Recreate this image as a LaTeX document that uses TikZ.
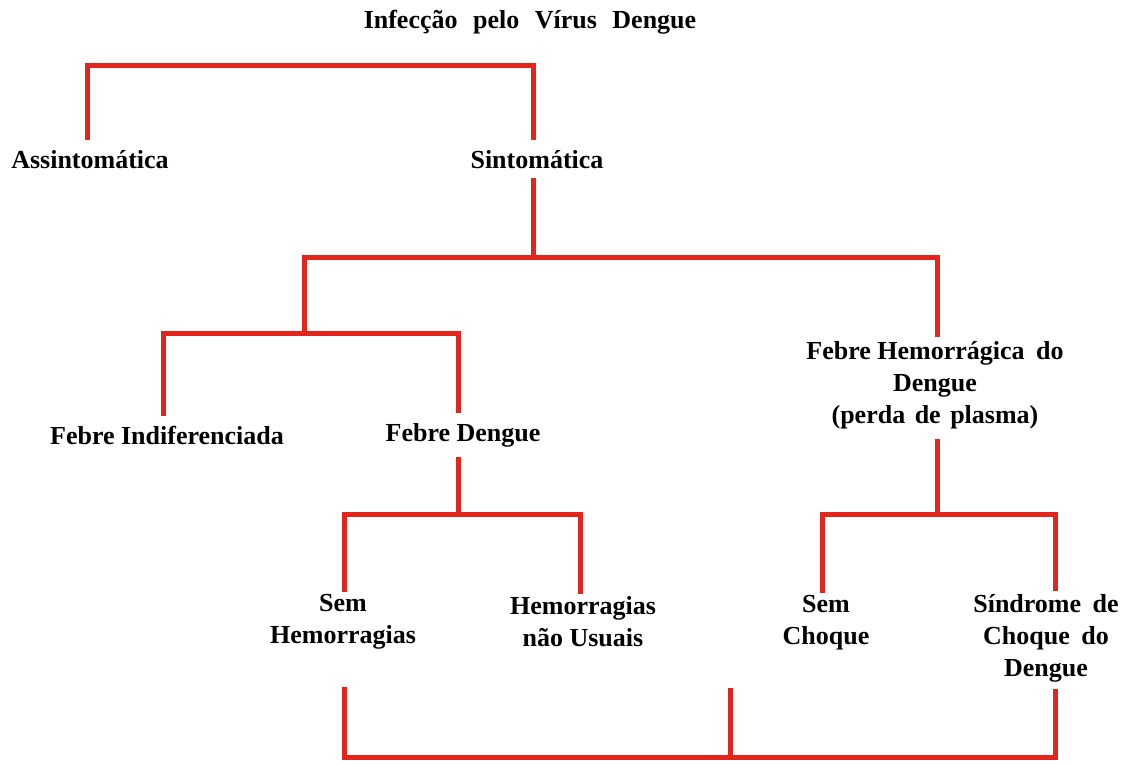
\documentclass[tikz,border=0pt]{standalone}
\usepackage{fontspec}
\setmainfont{Liberation Serif}
\definecolor{linkred}{RGB}{226,38,30}
\begin{document}
\begin{tikzpicture}[x=1pt,y=-1pt,
  lbl/.style={font=\fontsize{26}{32}\selectfont\bfseries, align=center, inner sep=0pt, outer sep=0pt, text=black},
  link/.style={draw=linkred, line width=5pt, line join=miter},
]
\useasboundingbox (0,0) rectangle (1135,764);
% nodes
\node[lbl] (title) at (530,22) {Infecção\hspace{9pt} pelo\hspace{9pt} Vírus\hspace{9pt} Dengue};
\node[lbl] (asin) at (90,160) {Assintomática};
\node[lbl] (sint) at (537,160) {Sintomática};
\node[lbl] (fi) at (167,435) {Febre Indiferenciada};
\node[lbl] (fd) at (463,435) {Febre Dengue};
\node[lbl] (fhd) at (935,385) {Febre Hemorrágica\hspace{5pt} do\\Dengue\\(perda\hspace{3pt} de\hspace{3pt} plasma)};
\node[lbl] (semh) at (343,622) {Sem\\Hemorragias};
\node[lbl] (hnu) at (583,622) {Hemorragias\\não Usuais};
\node[lbl] (semc) at (826,623) {Sem\\Choque};
\node[lbl] (scd) at (1046,638) {Síndrome\hspace{5pt} de\\Choque\hspace{5pt} do\\Dengue};
% junctions
\coordinate (b1) at (300,65);
\coordinate (b2) at (533,257);
\coordinate (b3) at (304,333);
\coordinate (b4) at (458,514);
\coordinate (b5) at (937,514);
\coordinate (b6) at (730,757);
\coordinate (b7) at (730,688);
% connectors
\draw[link, shorten <=11pt, shorten >=11pt] ([xshift=-3pt]asin.north) |- (b1) -| ([xshift=-4pt]sint.north);
\draw[link, shorten <=9pt] ([xshift=-4pt]sint.south) -- (b2);
\draw[link, shorten >=4pt] (b3) |- (b2) -| ([xshift=2pt]fhd.north);
\draw[link, shorten <=10pt, shorten >=10pt] ([xshift=-4pt]fi.north) |- (b3) -| ([xshift=-5pt]fd.north);
\draw[link, shorten <=10pt] ([xshift=-5pt]fd.south) -- (b4);
\draw[link, shorten <=10pt] ([xshift=2pt]fhd.south) -- (b5);
\draw[link, shorten <=3pt, shorten >=3pt] ([xshift=1pt]semh.north) |- (b4) -| ([xshift=-3pt]hnu.north);
\draw[link, shorten <=3pt, shorten >=3pt] ([xshift=-4pt]semc.north) |- (b5) -| ([xshift=9pt]scd.north);
\draw[link, shorten <=38pt, shorten >=7pt] ([xshift=1pt]semh.south) |- (b6) -| ([xshift=9pt]scd.south);
\draw[link] (b6) -- (b7);
\end{tikzpicture}
\end{document}
